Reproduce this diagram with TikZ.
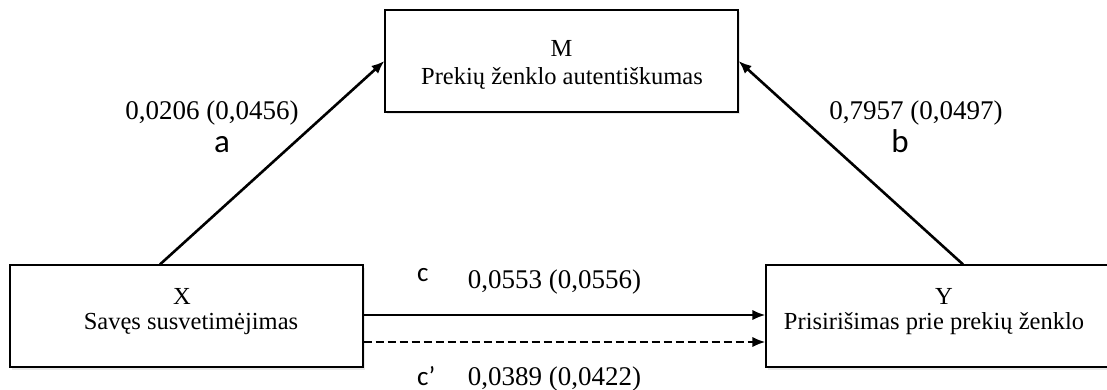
\documentclass[tikz,border=0pt]{standalone}
\usepackage{fontspec}
\setmainfont{Liberation Serif}
\newfontfamily\pathfont{Carlito}
\usetikzlibrary{arrows.meta,shadows}
\begin{document}
\begin{tikzpicture}[x=1pt,y=-1pt,
  varbox/.style={draw=black,line width=1.2pt,fill=white,inner sep=0pt,
    minimum width=353pt,minimum height=102pt,
    drop shadow={shadow xshift=1.5pt,shadow yshift=-2.5pt,opacity=0.18}},
  boxtext/.style={anchor=base,inner sep=0pt,font=\fontsize{24.5}{28}\selectfont},
  coef/.style={anchor=base,inner sep=0pt,font=\fontsize{27}{30}\selectfont},
  pathbig/.style={anchor=base,inner sep=0pt,font=\pathfont\fontsize{33}{36}\selectfont},
  pathsmall/.style={anchor=base west,inner sep=0pt,font=\pathfont\fontsize{27}{30}\selectfont},
  effect/.style={line width=2.6pt,-{Latex[length=13pt,width=10.5pt]}},
]
\useasboundingbox (0,0) rectangle (1107,390);
\clip (0,0) rectangle (1107,390);

% variable boxes
\node[varbox] (M) at (561.5,61) {};
\node[varbox] (X) at (186.5,316) {};
\node[varbox] (Y) at (942.5,316) {};

% box captions
\node[boxtext] (Mname) at (561.5,57) {M};
\node[boxtext] (Mdesc) at (562,85) {Prekių ženklo autentiškumas};
\node[boxtext] (Xname) at (182,304) {X};
\node[boxtext] (Xdesc) at (191,329) {Savęs susvetimėjimas};
\node[boxtext] (Yname) at (944,304) {Y};
\node[boxtext] (Ydesc) at (934,329) {Prisirišimas prie prekių ženklo};

% paths a and b
\draw[effect] ([xshift=-26.5pt]X.north) -- (M.west);
\draw[effect] ([xshift=20.5pt]Y.north) -- (M.east);

% total and direct effects
\draw[effect] ([yshift=1pt]X.east) -- ([yshift=1pt]Y.west);
\draw[effect,dashed,dash pattern=on 8pt off 4pt] ([yshift=-26pt]X.east) -- ([yshift=-26pt]Y.west);

% coefficients
\node[coef] (acoef) at (212,120) {0,0206 (0,0456)};
\node[pathbig] (alab) at (222,153) {a};
\node[coef] (bcoef) at (916,120) {0,7957 (0,0497)};
\node[pathbig] (blab) at (900,153) {b};
\node[pathsmall] (clab) at (417,281) {c};
\node[coef] (ccoef) at (554.5,288) {0,0553 (0,0556)};
\node[pathsmall] (cplab) at (417,385) {c’};
\node[coef] (cpcoef) at (554.5,385) {0,0389 (0,0422)};
\end{tikzpicture}
\end{document}
